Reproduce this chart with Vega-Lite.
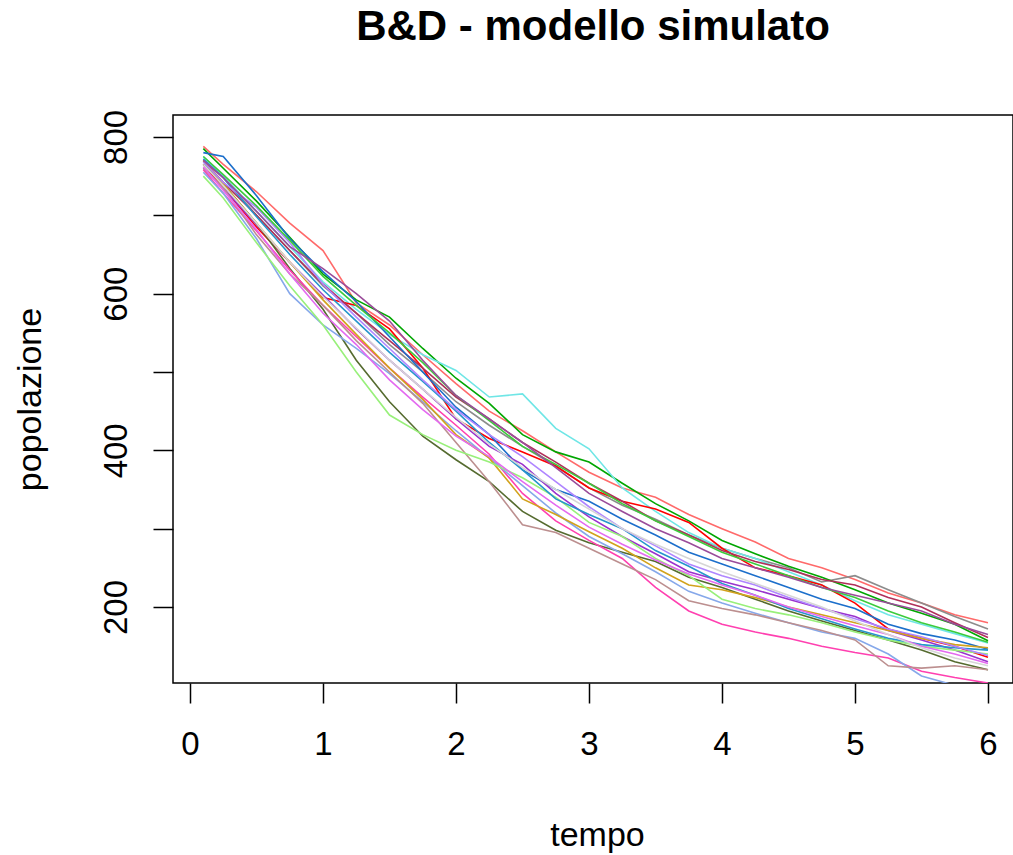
{"$schema":"https://vega.github.io/schema/vega-lite/v6.json","width":840,"height":568,"autosize":"none","padding":{"left":173,"top":115,"right":0,"bottom":172},"background":"white",
"title":{"text":"B&D - modello simulato","fontSize":42,"fontWeight":"bold","font":"Liberation Sans","color":"black","anchor":"middle","offset":60},
"datasets":{"runs":[
{"s":"a","t":0.1,"y":788},{"s":"a","t":0.25,"y":765},{"s":"a","t":0.5,"y":730},{"s":"a","t":0.75,"y":690},{"s":"a","t":1,"y":655},{"s":"a","t":1.25,"y":588},{"s":"a","t":1.5,"y":560},{"s":"a","t":1.75,"y":522},{"s":"a","t":2,"y":485},{"s":"a","t":2.25,"y":450},{"s":"a","t":2.5,"y":425},{"s":"a","t":2.75,"y":398},{"s":"a","t":3,"y":372},{"s":"a","t":3.25,"y":352},{"s":"a","t":3.5,"y":340},{"s":"a","t":3.75,"y":318},{"s":"a","t":4,"y":300},{"s":"a","t":4.25,"y":283},{"s":"a","t":4.5,"y":262},{"s":"a","t":4.75,"y":250},{"s":"a","t":5,"y":235},{"s":"a","t":5.25,"y":218},{"s":"a","t":5.5,"y":205},{"s":"a","t":5.75,"y":190},{"s":"a","t":6,"y":180},
{"s":"b","t":0.1,"y":770},{"s":"b","t":0.25,"y":748},{"s":"b","t":0.5,"y":700},{"s":"b","t":0.75,"y":655},{"s":"b","t":1,"y":610},{"s":"b","t":1.25,"y":575},{"s":"b","t":1.5,"y":535},{"s":"b","t":1.75,"y":500},{"s":"b","t":2,"y":462},{"s":"b","t":2.25,"y":432},{"s":"b","t":2.5,"y":405},{"s":"b","t":2.75,"y":380},{"s":"b","t":3,"y":352},{"s":"b","t":3.25,"y":330},{"s":"b","t":3.5,"y":312},{"s":"b","t":3.75,"y":292},{"s":"b","t":4,"y":275},{"s":"b","t":4.25,"y":262},{"s":"b","t":4.5,"y":250},{"s":"b","t":4.75,"y":232},{"s":"b","t":5,"y":240},{"s":"b","t":5.25,"y":222},{"s":"b","t":5.5,"y":205},{"s":"b","t":5.75,"y":188},{"s":"b","t":6,"y":172},
{"s":"c","t":0.1,"y":785},{"s":"c","t":0.25,"y":760},{"s":"c","t":0.5,"y":718},{"s":"c","t":0.75,"y":672},{"s":"c","t":1,"y":625},{"s":"c","t":1.25,"y":592},{"s":"c","t":1.5,"y":570},{"s":"c","t":1.75,"y":530},{"s":"c","t":2,"y":492},{"s":"c","t":2.25,"y":460},{"s":"c","t":2.5,"y":420},{"s":"c","t":2.75,"y":398},{"s":"c","t":3,"y":385},{"s":"c","t":3.25,"y":358},{"s":"c","t":3.5,"y":332},{"s":"c","t":3.75,"y":310},{"s":"c","t":4,"y":285},{"s":"c","t":4.25,"y":268},{"s":"c","t":4.5,"y":252},{"s":"c","t":4.75,"y":238},{"s":"c","t":5,"y":222},{"s":"c","t":5.25,"y":205},{"s":"c","t":5.5,"y":192},{"s":"c","t":5.75,"y":178},{"s":"c","t":6,"y":157},
{"s":"d","t":0.1,"y":775},{"s":"d","t":0.25,"y":750},{"s":"d","t":0.5,"y":705},{"s":"d","t":0.75,"y":660},{"s":"d","t":1,"y":615},{"s":"d","t":1.25,"y":580},{"s":"d","t":1.5,"y":548},{"s":"d","t":1.75,"y":522},{"s":"d","t":2,"y":502},{"s":"d","t":2.25,"y":468},{"s":"d","t":2.5,"y":472},{"s":"d","t":2.75,"y":428},{"s":"d","t":3,"y":402},{"s":"d","t":3.25,"y":352},{"s":"d","t":3.5,"y":322},{"s":"d","t":3.75,"y":295},{"s":"d","t":4,"y":275},{"s":"d","t":4.25,"y":262},{"s":"d","t":4.5,"y":245},{"s":"d","t":4.75,"y":228},{"s":"d","t":5,"y":208},{"s":"d","t":5.25,"y":190},{"s":"d","t":5.5,"y":178},{"s":"d","t":5.75,"y":166},{"s":"d","t":6,"y":154},
{"s":"e","t":0.1,"y":765},{"s":"e","t":0.25,"y":735},{"s":"e","t":0.5,"y":685},{"s":"e","t":0.75,"y":640},{"s":"e","t":1,"y":595},{"s":"e","t":1.25,"y":585},{"s":"e","t":1.5,"y":555},{"s":"e","t":1.75,"y":505},{"s":"e","t":2,"y":440},{"s":"e","t":2.25,"y":415},{"s":"e","t":2.5,"y":398},{"s":"e","t":2.75,"y":380},{"s":"e","t":3,"y":352},{"s":"e","t":3.25,"y":335},{"s":"e","t":3.5,"y":325},{"s":"e","t":3.75,"y":308},{"s":"e","t":4,"y":275},{"s":"e","t":4.25,"y":250},{"s":"e","t":4.5,"y":240},{"s":"e","t":4.75,"y":228},{"s":"e","t":5,"y":205},{"s":"e","t":5.25,"y":172},{"s":"e","t":5.5,"y":160},{"s":"e","t":5.75,"y":150},{"s":"e","t":6,"y":136},
{"s":"f","t":0.1,"y":770},{"s":"f","t":0.25,"y":742},{"s":"f","t":0.5,"y":700},{"s":"f","t":0.75,"y":655},{"s":"f","t":1,"y":612},{"s":"f","t":1.25,"y":575},{"s":"f","t":1.5,"y":540},{"s":"f","t":1.75,"y":505},{"s":"f","t":2,"y":468},{"s":"f","t":2.25,"y":440},{"s":"f","t":2.5,"y":410},{"s":"f","t":2.75,"y":385},{"s":"f","t":3,"y":358},{"s":"f","t":3.25,"y":335},{"s":"f","t":3.5,"y":310},{"s":"f","t":3.75,"y":292},{"s":"f","t":4,"y":272},{"s":"f","t":4.25,"y":258},{"s":"f","t":4.5,"y":248},{"s":"f","t":4.75,"y":235},{"s":"f","t":5,"y":228},{"s":"f","t":5.25,"y":212},{"s":"f","t":5.5,"y":200},{"s":"f","t":5.75,"y":180},{"s":"f","t":6,"y":161},
{"s":"g","t":0.1,"y":780},{"s":"g","t":0.25,"y":775},{"s":"g","t":0.5,"y":725},{"s":"g","t":0.75,"y":670},{"s":"g","t":1,"y":628},{"s":"g","t":1.25,"y":590},{"s":"g","t":1.5,"y":545},{"s":"g","t":1.75,"y":500},{"s":"g","t":2,"y":455},{"s":"g","t":2.25,"y":420},{"s":"g","t":2.5,"y":375},{"s":"g","t":2.75,"y":350},{"s":"g","t":3,"y":335},{"s":"g","t":3.25,"y":312},{"s":"g","t":3.5,"y":292},{"s":"g","t":3.75,"y":270},{"s":"g","t":4,"y":255},{"s":"g","t":4.25,"y":240},{"s":"g","t":4.5,"y":225},{"s":"g","t":4.75,"y":210},{"s":"g","t":5,"y":198},{"s":"g","t":5.25,"y":178},{"s":"g","t":5.5,"y":166},{"s":"g","t":5.75,"y":158},{"s":"g","t":6,"y":146},
{"s":"h","t":0.1,"y":760},{"s":"h","t":0.25,"y":735},{"s":"h","t":0.5,"y":688},{"s":"h","t":0.75,"y":640},{"s":"h","t":1,"y":598},{"s":"h","t":1.25,"y":555},{"s":"h","t":1.5,"y":515},{"s":"h","t":1.75,"y":478},{"s":"h","t":2,"y":440},{"s":"h","t":2.25,"y":405},{"s":"h","t":2.5,"y":382},{"s":"h","t":2.75,"y":345},{"s":"h","t":3,"y":315},{"s":"h","t":3.25,"y":290},{"s":"h","t":3.5,"y":268},{"s":"h","t":3.75,"y":245},{"s":"h","t":4,"y":233},{"s":"h","t":4.25,"y":222},{"s":"h","t":4.5,"y":210},{"s":"h","t":4.75,"y":198},{"s":"h","t":5,"y":188},{"s":"h","t":5.25,"y":170},{"s":"h","t":5.5,"y":158},{"s":"h","t":5.75,"y":145},{"s":"h","t":6,"y":130},
{"s":"i","t":0.1,"y":765},{"s":"i","t":0.25,"y":740},{"s":"i","t":0.5,"y":690},{"s":"i","t":0.75,"y":632},{"s":"i","t":1,"y":580},{"s":"i","t":1.25,"y":515},{"s":"i","t":1.5,"y":462},{"s":"i","t":1.75,"y":418},{"s":"i","t":2,"y":388},{"s":"i","t":2.25,"y":360},{"s":"i","t":2.5,"y":322},{"s":"i","t":2.75,"y":298},{"s":"i","t":3,"y":282},{"s":"i","t":3.25,"y":270},{"s":"i","t":3.5,"y":258},{"s":"i","t":3.75,"y":238},{"s":"i","t":4,"y":225},{"s":"i","t":4.25,"y":210},{"s":"i","t":4.5,"y":195},{"s":"i","t":4.75,"y":182},{"s":"i","t":5,"y":170},{"s":"i","t":5.25,"y":158},{"s":"i","t":5.5,"y":145},{"s":"i","t":5.75,"y":130},{"s":"i","t":6,"y":120},
{"s":"j","t":0.1,"y":758},{"s":"j","t":0.25,"y":728},{"s":"j","t":0.5,"y":680},{"s":"j","t":0.75,"y":630},{"s":"j","t":1,"y":585},{"s":"j","t":1.25,"y":545},{"s":"j","t":1.5,"y":505},{"s":"j","t":1.75,"y":468},{"s":"j","t":2,"y":432},{"s":"j","t":2.25,"y":395},{"s":"j","t":2.5,"y":345},{"s":"j","t":2.75,"y":310},{"s":"j","t":3,"y":285},{"s":"j","t":3.25,"y":262},{"s":"j","t":3.5,"y":225},{"s":"j","t":3.75,"y":195},{"s":"j","t":4,"y":178},{"s":"j","t":4.25,"y":168},{"s":"j","t":4.5,"y":160},{"s":"j","t":4.75,"y":150},{"s":"j","t":5,"y":142},{"s":"j","t":5.25,"y":135},{"s":"j","t":5.5,"y":118},{"s":"j","t":5.75,"y":110},{"s":"j","t":6,"y":103},
{"s":"k","t":0.1,"y":755},{"s":"k","t":0.25,"y":728},{"s":"k","t":0.5,"y":670},{"s":"k","t":0.75,"y":600},{"s":"k","t":1,"y":560},{"s":"k","t":1.25,"y":530},{"s":"k","t":1.5,"y":498},{"s":"k","t":1.75,"y":462},{"s":"k","t":2,"y":425},{"s":"k","t":2.25,"y":390},{"s":"k","t":2.5,"y":355},{"s":"k","t":2.75,"y":320},{"s":"k","t":3,"y":290},{"s":"k","t":3.25,"y":268},{"s":"k","t":3.5,"y":245},{"s":"k","t":3.75,"y":220},{"s":"k","t":4,"y":205},{"s":"k","t":4.25,"y":192},{"s":"k","t":4.5,"y":180},{"s":"k","t":4.75,"y":168},{"s":"k","t":5,"y":160},{"s":"k","t":5.25,"y":140},{"s":"k","t":5.5,"y":112},{"s":"k","t":5.75,"y":100},{"s":"k","t":6,"y":95},
{"s":"l","t":0.1,"y":760},{"s":"l","t":0.25,"y":735},{"s":"l","t":0.5,"y":675},{"s":"l","t":0.75,"y":625},{"s":"l","t":1,"y":585},{"s":"l","t":1.25,"y":540},{"s":"l","t":1.5,"y":500},{"s":"l","t":1.75,"y":460},{"s":"l","t":2,"y":410},{"s":"l","t":2.25,"y":360},{"s":"l","t":2.5,"y":305},{"s":"l","t":2.75,"y":295},{"s":"l","t":3,"y":275},{"s":"l","t":3.25,"y":255},{"s":"l","t":3.5,"y":235},{"s":"l","t":3.75,"y":208},{"s":"l","t":4,"y":198},{"s":"l","t":4.25,"y":190},{"s":"l","t":4.5,"y":180},{"s":"l","t":4.75,"y":170},{"s":"l","t":5,"y":158},{"s":"l","t":5.25,"y":125},{"s":"l","t":5.5,"y":122},{"s":"l","t":5.75,"y":125},{"s":"l","t":6,"y":120},
{"s":"m","t":0.1,"y":770},{"s":"m","t":0.25,"y":740},{"s":"m","t":0.5,"y":690},{"s":"m","t":0.75,"y":640},{"s":"m","t":1,"y":592},{"s":"m","t":1.25,"y":548},{"s":"m","t":1.5,"y":505},{"s":"m","t":1.75,"y":465},{"s":"m","t":2,"y":420},{"s":"m","t":2.25,"y":390},{"s":"m","t":2.5,"y":338},{"s":"m","t":2.75,"y":318},{"s":"m","t":3,"y":296},{"s":"m","t":3.25,"y":275},{"s":"m","t":3.5,"y":250},{"s":"m","t":3.75,"y":228},{"s":"m","t":4,"y":222},{"s":"m","t":4.25,"y":212},{"s":"m","t":4.5,"y":200},{"s":"m","t":4.75,"y":190},{"s":"m","t":5,"y":180},{"s":"m","t":5.25,"y":170},{"s":"m","t":5.5,"y":160},{"s":"m","t":5.75,"y":152},{"s":"m","t":6,"y":148},
{"s":"n","t":0.1,"y":750},{"s":"n","t":0.25,"y":722},{"s":"n","t":0.5,"y":665},{"s":"n","t":0.75,"y":610},{"s":"n","t":1,"y":560},{"s":"n","t":1.25,"y":500},{"s":"n","t":1.5,"y":445},{"s":"n","t":1.75,"y":420},{"s":"n","t":2,"y":400},{"s":"n","t":2.25,"y":385},{"s":"n","t":2.5,"y":365},{"s":"n","t":2.75,"y":340},{"s":"n","t":3,"y":308},{"s":"n","t":3.25,"y":290},{"s":"n","t":3.5,"y":262},{"s":"n","t":3.75,"y":240},{"s":"n","t":4,"y":210},{"s":"n","t":4.25,"y":198},{"s":"n","t":4.5,"y":190},{"s":"n","t":4.75,"y":180},{"s":"n","t":5,"y":168},{"s":"n","t":5.25,"y":158},{"s":"n","t":5.5,"y":150},{"s":"n","t":5.75,"y":145},{"s":"n","t":6,"y":140},
{"s":"o","t":0.1,"y":772},{"s":"o","t":0.25,"y":748},{"s":"o","t":0.5,"y":698},{"s":"o","t":0.75,"y":650},{"s":"o","t":1,"y":605},{"s":"o","t":1.25,"y":565},{"s":"o","t":1.5,"y":525},{"s":"o","t":1.75,"y":488},{"s":"o","t":2,"y":450},{"s":"o","t":2.25,"y":410},{"s":"o","t":2.5,"y":375},{"s":"o","t":2.75,"y":338},{"s":"o","t":3,"y":318},{"s":"o","t":3.25,"y":300},{"s":"o","t":3.5,"y":272},{"s":"o","t":3.75,"y":252},{"s":"o","t":4,"y":230},{"s":"o","t":4.25,"y":215},{"s":"o","t":4.5,"y":198},{"s":"o","t":4.75,"y":185},{"s":"o","t":5,"y":172},{"s":"o","t":5.25,"y":160},{"s":"o","t":5.5,"y":152},{"s":"o","t":5.75,"y":148},{"s":"o","t":6,"y":145},
{"s":"p","t":0.1,"y":762},{"s":"p","t":0.25,"y":732},{"s":"p","t":0.5,"y":682},{"s":"p","t":0.75,"y":625},{"s":"p","t":1,"y":575},{"s":"p","t":1.25,"y":535},{"s":"p","t":1.5,"y":490},{"s":"p","t":1.75,"y":452},{"s":"p","t":2,"y":418},{"s":"p","t":2.25,"y":392},{"s":"p","t":2.5,"y":360},{"s":"p","t":2.75,"y":330},{"s":"p","t":3,"y":302},{"s":"p","t":3.25,"y":280},{"s":"p","t":3.5,"y":260},{"s":"p","t":3.75,"y":242},{"s":"p","t":4,"y":228},{"s":"p","t":4.25,"y":215},{"s":"p","t":4.5,"y":200},{"s":"p","t":4.75,"y":188},{"s":"p","t":5,"y":176},{"s":"p","t":5.25,"y":165},{"s":"p","t":5.5,"y":150},{"s":"p","t":5.75,"y":140},{"s":"p","t":6,"y":128},
{"s":"q","t":0.1,"y":768},{"s":"q","t":0.25,"y":742},{"s":"q","t":0.5,"y":710},{"s":"q","t":0.75,"y":665},{"s":"q","t":1,"y":612},{"s":"q","t":1.25,"y":570},{"s":"q","t":1.5,"y":530},{"s":"q","t":1.75,"y":490},{"s":"q","t":2,"y":452},{"s":"q","t":2.25,"y":420},{"s":"q","t":2.5,"y":392},{"s":"q","t":2.75,"y":360},{"s":"q","t":3,"y":328},{"s":"q","t":3.25,"y":300},{"s":"q","t":3.5,"y":278},{"s":"q","t":3.75,"y":255},{"s":"q","t":4,"y":240},{"s":"q","t":4.25,"y":228},{"s":"q","t":4.5,"y":212},{"s":"q","t":4.75,"y":198},{"s":"q","t":5,"y":185},{"s":"q","t":5.25,"y":172},{"s":"q","t":5.5,"y":162},{"s":"q","t":5.75,"y":150},{"s":"q","t":6,"y":138},
{"s":"r","t":0.1,"y":765},{"s":"r","t":0.25,"y":738},{"s":"r","t":0.5,"y":690},{"s":"r","t":0.75,"y":640},{"s":"r","t":1,"y":596},{"s":"r","t":1.25,"y":556},{"s":"r","t":1.5,"y":515},{"s":"r","t":1.75,"y":478},{"s":"r","t":2,"y":442},{"s":"r","t":2.25,"y":408},{"s":"r","t":2.5,"y":378},{"s":"r","t":2.75,"y":350},{"s":"r","t":3,"y":325},{"s":"r","t":3.25,"y":300},{"s":"r","t":3.5,"y":280},{"s":"r","t":3.75,"y":262},{"s":"r","t":4,"y":245},{"s":"r","t":4.25,"y":230},{"s":"r","t":4.5,"y":215},{"s":"r","t":4.75,"y":200},{"s":"r","t":5,"y":182},{"s":"r","t":5.25,"y":165},{"s":"r","t":5.5,"y":148},{"s":"r","t":5.75,"y":135},{"s":"r","t":6,"y":125},
{"s":"s","t":0.1,"y":775},{"s":"s","t":0.25,"y":752},{"s":"s","t":0.5,"y":712},{"s":"s","t":0.75,"y":668},{"s":"s","t":1,"y":622},{"s":"s","t":1.25,"y":585},{"s":"s","t":1.5,"y":550},{"s":"s","t":1.75,"y":512},{"s":"s","t":2,"y":470},{"s":"s","t":2.25,"y":438},{"s":"s","t":2.5,"y":405},{"s":"s","t":2.75,"y":382},{"s":"s","t":3,"y":358},{"s":"s","t":3.25,"y":332},{"s":"s","t":3.5,"y":310},{"s":"s","t":3.75,"y":290},{"s":"s","t":4,"y":270},{"s":"s","t":4.25,"y":255},{"s":"s","t":4.5,"y":240},{"s":"s","t":4.75,"y":225},{"s":"s","t":5,"y":212},{"s":"s","t":5.25,"y":195},{"s":"s","t":5.5,"y":180},{"s":"s","t":5.75,"y":168},{"s":"s","t":6,"y":155},
{"s":"t","t":0.1,"y":770},{"s":"t","t":0.25,"y":748},{"s":"t","t":0.5,"y":705},{"s":"t","t":0.75,"y":660},{"s":"t","t":1,"y":632},{"s":"t","t":1.25,"y":600},{"s":"t","t":1.5,"y":565},{"s":"t","t":1.75,"y":515},{"s":"t","t":2,"y":470},{"s":"t","t":2.25,"y":440},{"s":"t","t":2.5,"y":410},{"s":"t","t":2.75,"y":378},{"s":"t","t":3,"y":345},{"s":"t","t":3.25,"y":322},{"s":"t","t":3.5,"y":300},{"s":"t","t":3.75,"y":282},{"s":"t","t":4,"y":262},{"s":"t","t":4.25,"y":250},{"s":"t","t":4.5,"y":238},{"s":"t","t":4.75,"y":225},{"s":"t","t":5,"y":215},{"s":"t","t":5.25,"y":205},{"s":"t","t":5.5,"y":195},{"s":"t","t":5.75,"y":178},{"s":"t","t":6,"y":165}
]},
"data":{"name":"runs"},
"mark":{"type":"line","clip":true,"strokeWidth":1.6},
"encoding":{
"x":{"field":"t","type":"quantitative","scale":{"domain":[-0.128,6.188],"nice":false,"zero":false},"axis":{"values":[0,1,2,3,4,5,6],"title":"tempo","domain":false,"grid":false,"tickSize":20,"tickWidth":1.5,"tickColor":"black","labelFontSize":33,"labelColor":"black","labelPadding":25,"labelFont":"Liberation Sans","labelFlush":false,"labelOverlap":false,"labelBound":false,"titleFont":"Liberation Sans","titleFontSize":34,"titleFontWeight":"normal","titleColor":"black","titleX":424,"titleY":162,"titleBaseline":"alphabetic","titleAlign":"center"}},
"y":{"field":"y","type":"quantitative","scale":{"domain":[103,828],"nice":false,"zero":false},"axis":{"values":[200,300,400,500,600,700,800],"labelExpr":"datum.value % 200 == 0 ? datum.label : ''","title":"popolazione","domain":false,"grid":false,"tickSize":20,"tickWidth":1.5,"tickColor":"black","labelFontSize":33,"labelColor":"black","labelPadding":27,"labelFont":"Liberation Sans","labelAngle":-90,"labelAlign":"center","labelBaseline":"alphabetic","labelFlush":false,"labelOverlap":false,"labelBound":false,"titleFont":"Liberation Sans","titleFontSize":34,"titleFontWeight":"normal","titleColor":"black","titleX":-133,"titleY":284,"titleAngle":-90,"titleBaseline":"alphabetic","titleAlign":"center"}},
"color":{"field":"s","type":"nominal","scale":{"domain":["a","b","c","d","e","f","g","h","i","j","k","l","m","n","o","p","q","r","s","t"],"range":["#FF6A6A","#8C8C8C","#00A600","#6FE6E6","#FF0000","#B0305A","#1C6FCB","#9A32CD","#556B2F","#FF40B0","#86A8EA","#BC8F8F","#D2A21C","#98F07A","#2696CC","#E46AF0","#AF85FF","#D6D6D6","#3CCB3C","#9A4C9A"]},"legend":null}
},
"config":{"view":{"stroke":"black","strokeWidth":1.5}}
}
